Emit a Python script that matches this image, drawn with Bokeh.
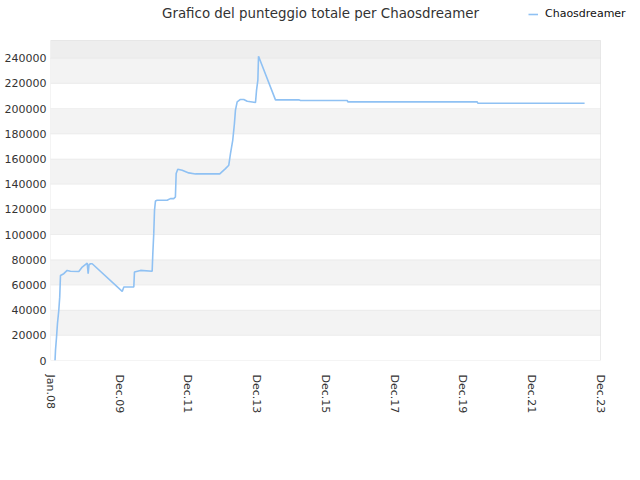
import pandas as pd
from bokeh.plotting import figure
from bokeh.models import (Range1d, FixedTicker, BasicTickFormatter, BoxAnnotation,
                          Label, Legend, LegendItem)
from bokeh.embed import file_html
from bokeh.resources import INLINE

title_text = "Grafico del punteggio totale per Chaosdreamer"
series_name = "Chaosdreamer"

dates = [
    "2008-02-18", "2008-02-23", "2008-03-05", "2008-03-15", "2008-03-29", "2008-04-08",
    "2008-04-16", "2008-05-21", "2008-06-26", "2008-07-31", "2008-10-28", "2008-12-03",
    "2009-01-25", "2009-02-04", "2009-02-13", "2009-03-01", "2009-03-19", "2010-02-01",
    "2010-02-18", "2010-06-04", "2010-06-11", "2010-08-14", "2010-12-16", "2010-12-23",
    "2011-01-02", "2011-01-10", "2011-01-20", "2011-02-07", "2011-05-24", "2011-06-28",
    "2011-08-02", "2011-08-20", "2011-08-28", "2011-09-14", "2011-10-31", "2012-01-09",
    "2012-03-20", "2012-12-03", "2013-02-02", "2013-03-09", "2013-03-27", "2013-04-14",
    "2013-04-20", "2013-05-01", "2013-05-08", "2013-05-19", "2013-06-06", "2013-07-11",
    "2013-08-15", "2013-09-21", "2013-12-18", "2013-12-29", "2014-01-12", "2014-01-19",
    "2014-07-18", "2015-03-23", "2015-04-10", "2016-08-18", "2016-08-25", "2020-05-30",
    "2020-06-06", "2023-07-15",
]
scores = [
    0, 8000, 18500, 29400, 39700, 50300,
    67500, 68900, 71500, 70900, 70700, 74200,
    77300, 68900, 76000, 76800, 76800, 54800,
    58300, 58300, 70200, 71500, 70900, 84800,
    100700, 119200, 126600, 127200, 127200, 128500,
    128500, 129800, 148400, 151800, 151000, 148900,
    148100, 148100, 152300, 155000, 164200, 172200,
    174800, 182800, 188100, 198700, 205300, 207200,
    207200, 205800, 204800, 214600, 222500, 241500,
    206900, 206900, 206400, 206400, 205300, 205300,
    204200, 204200,
]

x_tick_dates = ["2008-01-01", "2009-12-31", "2011-12-31", "2013-12-31", "2015-12-31",
                "2017-12-31", "2019-12-31", "2021-12-31", "2023-12-31"]
x_tick_labels = ["Jan.08", "Dec.09", "Dec.11", "Dec.13", "Dec.15",
                 "Dec.17", "Dec.19", "Dec.21", "Dec.23"]
y_ticks = [0, 20000, 40000, 60000, 80000, 100000, 120000, 140000, 160000,
           180000, 200000, 220000, 240000]
y_max = 254000

FONT = "DejaVu Sans"
W, H = 640, 480
PLOT_L, PLOT_R, PLOT_T, PLOT_B = 50, 600, 40, 360   # plot-area box in pixels

x = pd.to_datetime(dates)
tick_ms = [int(pd.Timestamp(d).value // 10**6) for d in x_tick_dates]
x0 = pd.Timestamp(x_tick_dates[0])
x1 = pd.Timestamp(x_tick_dates[-1])
# the frame spans the whole area to the right of the y axis and above the x axis,
# so the title and legend can be drawn inside it; the plot box is drawn explicitly
x_end = x0 + (x1 - x0) * (W - PLOT_L) / (PLOT_R - PLOT_L)
y_end = y_max * PLOT_B / (PLOT_B - PLOT_T)

p = figure(width=W, height=H, output_backend="svg", toolbar_location=None,
           x_axis_type="datetime",
           x_range=Range1d(x0, x_end), y_range=Range1d(0, y_end),
           min_border_left=PLOT_L, min_border_right=0, min_border_top=0,
           min_border_bottom=H - PLOT_B)
p.background_fill_color = "white"
p.border_fill_color = "white"
p.outline_line_color = None
p.xgrid.visible = False
p.ygrid.visible = False

# bands with grid lines
bounds = y_ticks + [y_max]
for i in range(len(bounds) - 1):
    if i == len(bounds) - 2:
        fill = "#eeeeee"
    else:
        fill = "#f3f3f3" if i % 2 == 1 else "#ffffff"
    p.add_layout(BoxAnnotation(left=x0, right=x1, bottom=bounds[i], top=bounds[i + 1],
                               fill_color=fill, fill_alpha=1,
                               line_color="#dddddd", line_width=1, level="underlay"))
# plot area border
p.add_layout(BoxAnnotation(left=x0, right=x1, bottom=0, top=y_max,
                           fill_alpha=0, line_color="#d4d4d4", line_width=1, level="underlay"))

r = p.line(x, scores, line_color="#8fc1f3", line_width=1.6)

p.xaxis.ticker = FixedTicker(ticks=tick_ms)
p.xaxis.major_label_overrides = {t: l for t, l in zip(tick_ms, x_tick_labels)}
p.xaxis.major_label_orientation = "vertical"
p.xaxis.major_label_standoff = 14

p.yaxis.ticker = FixedTicker(ticks=y_ticks)
p.yaxis.formatter = BasicTickFormatter(use_scientific=False)
p.yaxis.major_label_standoff = 4

for ax in (p.xaxis[0], p.yaxis[0]):
    ax.axis_line_color = None
    ax.major_tick_line_color = None
    ax.minor_tick_line_color = None
    ax.major_tick_out = 0
    ax.major_tick_in = 0
    ax.major_label_text_font = FONT
    ax.major_label_text_color = "#333333"
    ax.major_label_text_font_size = "11px"

p.add_layout(Label(x=320 - PLOT_L, y=PLOT_B - 13, x_units="screen", y_units="screen",
                   text=title_text, text_align="center", text_baseline="middle",
                   text_font=FONT, text_font_size="13.4px", text_color="#333333"))

legend = Legend(items=[LegendItem(label=series_name, renderers=[r])],
                location=(528 - PLOT_L, PLOT_B - 20), padding=0, margin=0, spacing=0,
                glyph_width=10, glyph_height=12, label_height=12, label_standoff=7,
                label_text_font=FONT, label_text_font_size="11px", label_text_color="#111111",
                border_line_alpha=0, background_fill_alpha=0)
p.add_layout(legend, "center")

open("out.html", "w").write(file_html(p, INLINE))
